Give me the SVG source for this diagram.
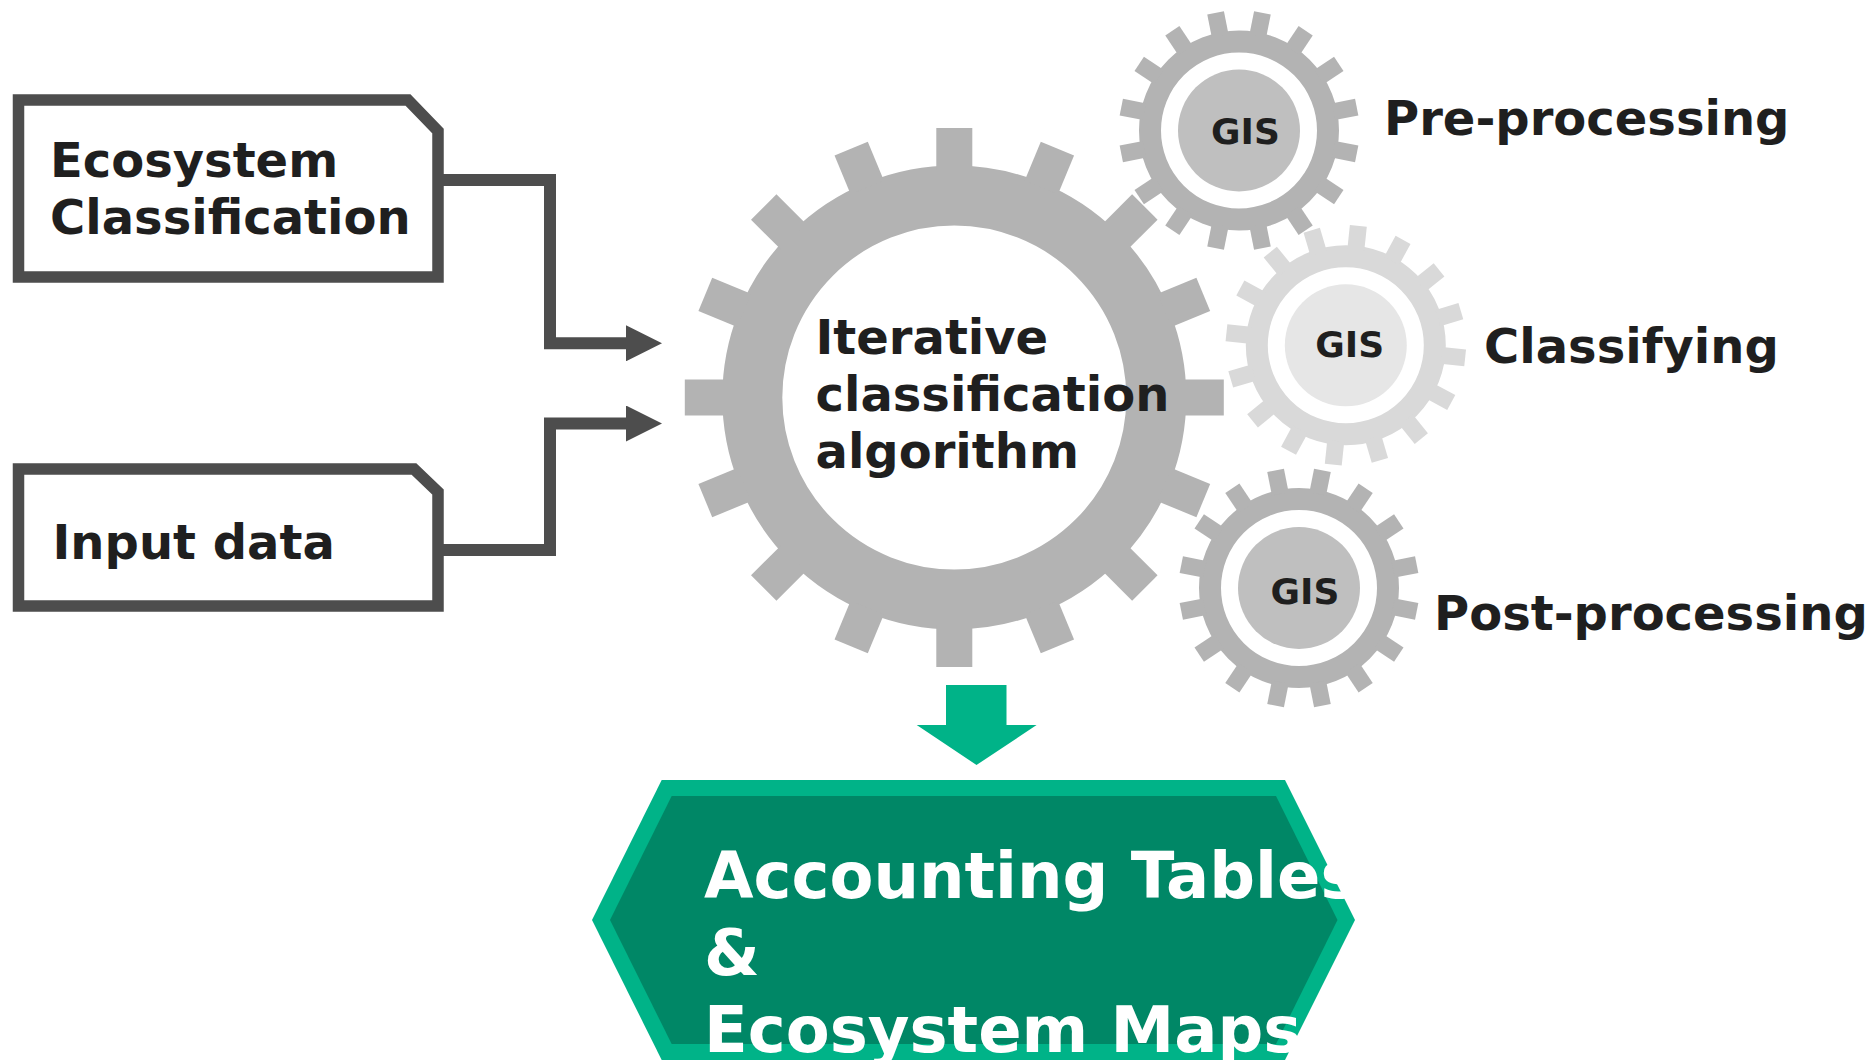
<svg xmlns="http://www.w3.org/2000/svg" xmlns:xlink="http://www.w3.org/1999/xlink" width="1873" height="1060" viewBox="0 0 1873 1060">
  <style>
    .lbl { font-family: "DejaVu Sans", "Liberation Sans", sans-serif; font-weight: bold; font-size: 48px; fill: #1f1f1f; }
    .gis { font-family: "DejaVu Sans", "Liberation Sans", sans-serif; font-weight: bold; font-size: 36px; fill: #1f1f1f; text-anchor: middle; }
    .out { font-family: "DejaVu Sans", "Liberation Sans", sans-serif; font-weight: bold; font-size: 64px; fill: #ffffff; }
    .box { fill: #ffffff; stroke: #4d4d4d; stroke-width: 11.5; stroke-linejoin: miter; }
    .conn { fill: none; stroke: #4d4d4d; stroke-width: 12; stroke-linejoin: miter; }
    .dark { fill: #b3b3b3; }
    .darkring { fill: none; stroke: #b3b3b3; }
    .light { fill: #d9d9d9; }
    .lightring { fill: none; stroke: #d9d9d9; }
  </style>
  <defs>
    <marker id="arrow" markerUnits="userSpaceOnUse" markerWidth="36" markerHeight="36" viewBox="0 0 36 36" refX="0" refY="18" orient="auto">
      <path d="M0,0 L36,18 L0,36 Z" fill="#4d4d4d"/>
    </marker>
    <rect id="toothBig" x="-18" y="-269.5" width="36" height="42"/>
    <rect id="toothSmall" x="-8.5" y="-120" width="17" height="24"/>
    <clipPath id="outClip">
      <rect x="592" y="780" width="753" height="280"/>
    </clipPath>
  </defs>

  <rect width="1873" height="1060" fill="#ffffff"/>

  <g id="node-ecosystem-classification">
    <path class="box" d="M18.5,100 H408 L438,131 V277 H18.5 Z"/>
    <text class="lbl" x="50" y="176.5">Ecosystem</text>
    <text class="lbl" x="50" y="234">Classification</text>
  </g>

  <g id="node-input-data">
    <path class="box" d="M18.5,469 H414 L438,492 V606 H18.5 Z"/>
    <text class="lbl" x="52.5" y="558.5">Input data</text>
  </g>

  <g id="node-iterative">
    <g transform="translate(954.3,397.5)" class="dark">
      <circle class="darkring" r="202" stroke-width="60"/>
      <use href="#toothBig" transform="rotate(0)"/>
      <use href="#toothBig" transform="rotate(22.5)"/>
      <use href="#toothBig" transform="rotate(45)"/>
      <use href="#toothBig" transform="rotate(67.5)"/>
      <use href="#toothBig" transform="rotate(90)"/>
      <use href="#toothBig" transform="rotate(112.5)"/>
      <use href="#toothBig" transform="rotate(135)"/>
      <use href="#toothBig" transform="rotate(157.5)"/>
      <use href="#toothBig" transform="rotate(180)"/>
      <use href="#toothBig" transform="rotate(202.5)"/>
      <use href="#toothBig" transform="rotate(225)"/>
      <use href="#toothBig" transform="rotate(247.5)"/>
      <use href="#toothBig" transform="rotate(270)"/>
      <use href="#toothBig" transform="rotate(292.5)"/>
      <use href="#toothBig" transform="rotate(315)"/>
      <use href="#toothBig" transform="rotate(337.5)"/>
    </g>
    <text class="lbl" x="815.5" y="354">Iterative</text>
    <text class="lbl" x="815.5" y="411">classification</text>
    <text class="lbl" x="815.5" y="468">algorithm</text>
  </g>

  <g id="node-gis-pre">
    <g transform="translate(1239,130.5)" class="dark">
      <circle class="darkring" r="89" stroke-width="22"/>
      <use href="#toothSmall" transform="rotate(11.25)"/>
      <use href="#toothSmall" transform="rotate(33.75)"/>
      <use href="#toothSmall" transform="rotate(56.25)"/>
      <use href="#toothSmall" transform="rotate(78.75)"/>
      <use href="#toothSmall" transform="rotate(101.25)"/>
      <use href="#toothSmall" transform="rotate(123.75)"/>
      <use href="#toothSmall" transform="rotate(146.25)"/>
      <use href="#toothSmall" transform="rotate(168.75)"/>
      <use href="#toothSmall" transform="rotate(191.25)"/>
      <use href="#toothSmall" transform="rotate(213.75)"/>
      <use href="#toothSmall" transform="rotate(236.25)"/>
      <use href="#toothSmall" transform="rotate(258.75)"/>
      <use href="#toothSmall" transform="rotate(281.25)"/>
      <use href="#toothSmall" transform="rotate(303.75)"/>
      <use href="#toothSmall" transform="rotate(326.25)"/>
      <use href="#toothSmall" transform="rotate(348.75)"/>
      <circle r="61" fill="#bfbfbf"/>
    </g>
    <text class="gis" x="1245.5" y="143.5">GIS</text>
    <text class="lbl" x="1384" y="135">Pre-processing</text>
  </g>

  <g id="node-gis-classify">
    <g transform="translate(1345.8,345.3)" class="light">
      <circle class="lightring" r="89" stroke-width="22"/>
      <use href="#toothSmall" transform="rotate(6)"/>
      <use href="#toothSmall" transform="rotate(28.5)"/>
      <use href="#toothSmall" transform="rotate(51)"/>
      <use href="#toothSmall" transform="rotate(73.5)"/>
      <use href="#toothSmall" transform="rotate(96)"/>
      <use href="#toothSmall" transform="rotate(118.5)"/>
      <use href="#toothSmall" transform="rotate(141)"/>
      <use href="#toothSmall" transform="rotate(163.5)"/>
      <use href="#toothSmall" transform="rotate(186)"/>
      <use href="#toothSmall" transform="rotate(208.5)"/>
      <use href="#toothSmall" transform="rotate(231)"/>
      <use href="#toothSmall" transform="rotate(253.5)"/>
      <use href="#toothSmall" transform="rotate(276)"/>
      <use href="#toothSmall" transform="rotate(298.5)"/>
      <use href="#toothSmall" transform="rotate(321)"/>
      <use href="#toothSmall" transform="rotate(343.5)"/>
      <circle r="61" fill="#e6e6e6"/>
    </g>
    <text class="gis" x="1349.7" y="356.7">GIS</text>
    <text class="lbl" x="1484" y="363">Classifying</text>
  </g>

  <g id="node-gis-post">
    <g transform="translate(1299,588)" class="dark">
      <circle class="darkring" r="89" stroke-width="22"/>
      <use href="#toothSmall" transform="rotate(11.25)"/>
      <use href="#toothSmall" transform="rotate(33.75)"/>
      <use href="#toothSmall" transform="rotate(56.25)"/>
      <use href="#toothSmall" transform="rotate(78.75)"/>
      <use href="#toothSmall" transform="rotate(101.25)"/>
      <use href="#toothSmall" transform="rotate(123.75)"/>
      <use href="#toothSmall" transform="rotate(146.25)"/>
      <use href="#toothSmall" transform="rotate(168.75)"/>
      <use href="#toothSmall" transform="rotate(191.25)"/>
      <use href="#toothSmall" transform="rotate(213.75)"/>
      <use href="#toothSmall" transform="rotate(236.25)"/>
      <use href="#toothSmall" transform="rotate(258.75)"/>
      <use href="#toothSmall" transform="rotate(281.25)"/>
      <use href="#toothSmall" transform="rotate(303.75)"/>
      <use href="#toothSmall" transform="rotate(326.25)"/>
      <use href="#toothSmall" transform="rotate(348.75)"/>
      <circle r="61" fill="#bfbfbf"/>
    </g>
    <text class="gis" x="1305" y="604">GIS</text>
    <text class="lbl" x="1434" y="629.5">Post-processing</text>
  </g>

  <g id="node-output">
    <polygon points="661.7,780 1285,780 1355,920 1285,1060 661.7,1060 592,920" fill="#00b388"/>
    <polygon points="671.7,796 1276,796 1337.5,920 1276,1044 671.7,1044 610,920" fill="#008766"/>
    <g clip-path="url(#outClip)">
      <text class="out" x="704" y="898">Accounting Tables</text>
      <text class="out" x="704" y="974.8">&amp;</text>
      <text class="out" x="704" y="1051.6">Ecosystem Maps</text>
    </g>
  </g>

  <g id="connectors">
    <path class="conn" d="M438,180 H550 V343.3 H626" marker-end="url(#arrow)"/>
    <path class="conn" d="M438,550 H550 V423.5 H626" marker-end="url(#arrow)"/>
    <polygon id="arrow-down" points="946,685 1006.5,685 1006.5,725 1036.6,725 976.5,765 916.7,725 946,725" fill="#00b388"/>
  </g>
</svg>
